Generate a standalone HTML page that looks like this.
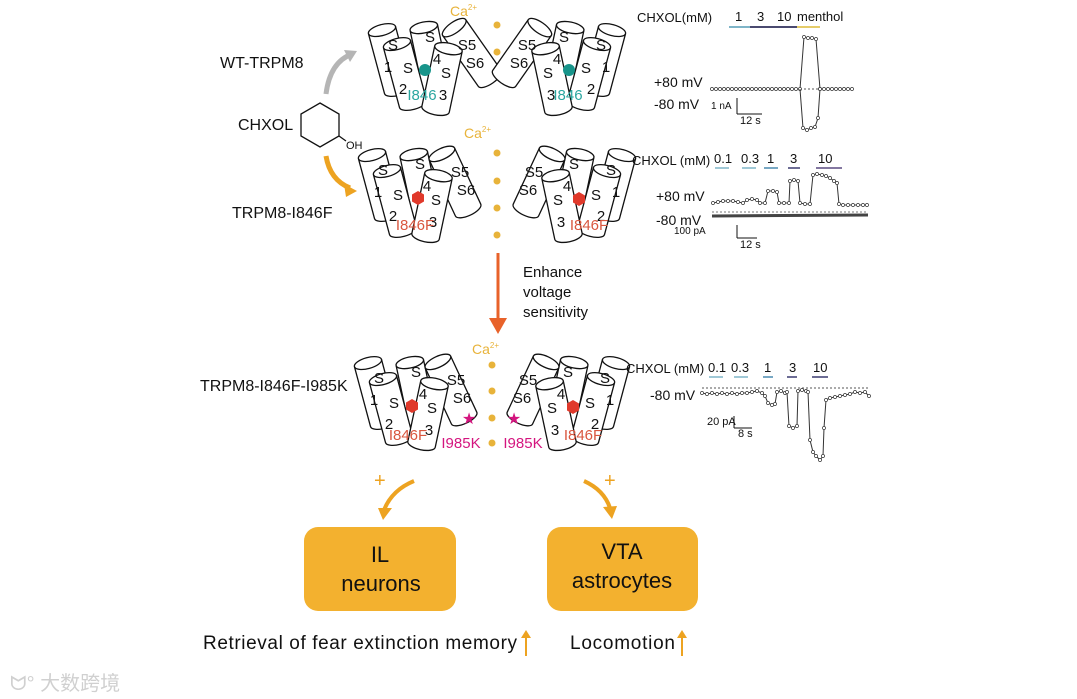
<!DOCTYPE html>
<html><head><meta charset="utf-8"><style>
html,body{margin:0;padding:0;background:#fff;}
svg{display:block;font-family:"Liberation Sans",Arial,sans-serif;}
</style></head><body>
<svg width="1077" height="699" viewBox="0 0 1077 699" xmlns="http://www.w3.org/2000/svg">
<defs>
<symbol id="cyl" overflow="visible">
<path d="M0,6 L0,68 A14,5.5 0 0 0 28,68 L28,6" fill="#fff" stroke="#111" stroke-width="1.3"/>
<ellipse cx="14" cy="6" rx="14" ry="5.5" fill="#fff" stroke="#111" stroke-width="1.3"/>
</symbol>
<marker id="dot" viewBox="-4 -4 8 8" markerWidth="5" markerHeight="5" markerUnits="userSpaceOnUse" refX="0" refY="0">
<circle r="2.6" fill="#fff" stroke="#333" stroke-width="1.2"/>
</marker>
<g id="half1">
<use href="#cyl" transform="translate(390,60) rotate(-15) translate(-14,-37)"/>
<use href="#cyl" transform="translate(429,52) rotate(-12) translate(-14,-31)"/>
<use href="#cyl" transform="translate(405,74) rotate(-15) translate(-14,-37)"/>
<use href="#cyl" transform="translate(472,53) rotate(-35) translate(-14,-37)"/>
<use href="#cyl" transform="translate(442,79) rotate(12) translate(-14,-37)"/>
</g>
<g id="half2">
<use href="#cyl" transform="translate(390,58) rotate(-15) translate(-14,-37)"/>
<use href="#cyl" transform="translate(429,52) rotate(-12) translate(-14,-31)"/>
<use href="#cyl" transform="translate(405,74) rotate(-15) translate(-14,-37)"/>
<use href="#cyl" transform="translate(465,55) rotate(-25) translate(-14,-37)"/>
<use href="#cyl" transform="translate(442,79) rotate(12) translate(-14,-37)"/>
</g>
</defs>

<!-- Row 1 -->
<use href="#half1"/>
<use href="#half1" transform="translate(994,0) scale(-1,1)"/>
<g font-size="15" fill="#111" text-anchor="middle">
<text x="393" y="50">S</text><text x="388" y="72">1</text>
<text x="408" y="73">S</text><text x="403" y="94">2</text>
<text x="430" y="42">S</text><text x="437" y="64">4</text>
<text x="446" y="78">S</text><text x="443" y="100">3</text>
<text x="467" y="50">S5</text><text x="475" y="68">S6</text>
<text x="601" y="50">S</text><text x="606" y="72">1</text>
<text x="586" y="73">S</text><text x="591" y="94">2</text>
<text x="564" y="42">S</text><text x="557" y="64">4</text>
<text x="548" y="78">S</text><text x="551" y="100">3</text>
<text x="527" y="50">S5</text><text x="519" y="68">S6</text>
</g>
<circle cx="425" cy="70" r="6" fill="#17948a"/><circle cx="569" cy="70" r="6" fill="#17948a"/>
<text x="422" y="100" font-size="15" fill="#2aa6a0" text-anchor="middle">I846</text>
<text x="568" y="100" font-size="15" fill="#2aa6a0" text-anchor="middle">I846</text>
<text x="450" y="16" font-size="14" fill="#e8b33a">Ca<tspan font-size="8" dy="-6">2+</tspan></text>
<circle cx="497" cy="25" r="3.5" fill="#e8b33a"/><circle cx="497" cy="52" r="3.5" fill="#e8b33a"/>

<!-- Row 2 -->
<g transform="translate(-10,127)"><use href="#half2"/></g>
<g transform="translate(1004,127) scale(-1,1)"><use href="#half2"/></g>
<g font-size="15" fill="#111" text-anchor="middle">
<text x="383" y="175">S</text><text x="378" y="197">1</text>
<text x="398" y="200">S</text><text x="393" y="221">2</text>
<text x="420" y="169">S</text><text x="427" y="191">4</text>
<text x="436" y="205">S</text><text x="433" y="227">3</text>
<text x="460" y="177">S5</text><text x="466" y="195">S6</text>
<text x="611" y="175">S</text><text x="616" y="197">1</text>
<text x="596" y="200">S</text><text x="601" y="221">2</text>
<text x="574" y="169">S</text><text x="567" y="191">4</text>
<text x="558" y="205">S</text><text x="561" y="227">3</text>
<text x="534" y="177">S5</text><text x="528" y="195">S6</text>
</g>
<polygon points="418,191 424,194.5 424,201.5 418,205 412,201.5 412,194.5" fill="#e0392b"/>
<polygon points="579,192 585,195.5 585,202.5 579,206 573,202.5 573,195.5" fill="#e0392b"/>
<text x="415" y="230" font-size="15" fill="#d9573f" text-anchor="middle">I846F</text>
<text x="589" y="230" font-size="15" fill="#d9573f" text-anchor="middle">I846F</text>
<text x="464" y="138" font-size="14" fill="#e8b33a">Ca<tspan font-size="8" dy="-6">2+</tspan></text>
<circle cx="497" cy="153" r="3.5" fill="#e8b33a"/><circle cx="497" cy="181" r="3.5" fill="#e8b33a"/><circle cx="497" cy="208" r="3.5" fill="#e8b33a"/><circle cx="497" cy="235" r="3.5" fill="#e8b33a"/>

<!-- Row 3 -->
<g transform="translate(-14,335)"><use href="#half2"/></g>
<g transform="translate(998,335) scale(-1,1)"><use href="#half2"/></g>
<g font-size="15" fill="#111" text-anchor="middle">
<text x="379" y="383">S</text><text x="374" y="405">1</text>
<text x="394" y="408">S</text><text x="389" y="429">2</text>
<text x="416" y="377">S</text><text x="423" y="399">4</text>
<text x="432" y="413">S</text><text x="429" y="435">3</text>
<text x="456" y="385">S5</text><text x="462" y="403">S6</text>
<text x="605" y="383">S</text><text x="610" y="405">1</text>
<text x="590" y="408">S</text><text x="595" y="429">2</text>
<text x="568" y="377">S</text><text x="561" y="399">4</text>
<text x="552" y="413">S</text><text x="555" y="435">3</text>
<text x="528" y="385">S5</text><text x="522" y="403">S6</text>
</g>
<polygon points="412,399 418,402.5 418,409.5 412,413 406,409.5 406,402.5" fill="#e0392b"/>
<polygon points="573,400 579,403.5 579,410.5 573,414 567,410.5 567,403.5" fill="#e0392b"/>
<text x="408" y="440" font-size="15" fill="#d9573f" text-anchor="middle">I846F</text>
<text x="583" y="440" font-size="15" fill="#d9573f" text-anchor="middle">I846F</text>
<text x="472" y="354" font-size="14" fill="#e8b33a">Ca<tspan font-size="8" dy="-6">2+</tspan></text>
<circle cx="492" cy="365" r="3.5" fill="#e8b33a"/><circle cx="492" cy="391" r="3.5" fill="#e8b33a"/><circle cx="492" cy="418" r="3.5" fill="#e8b33a"/><circle cx="492" cy="443" r="3.5" fill="#e8b33a"/>
<text x="469" y="424" font-size="16" fill="#d4157f" text-anchor="middle">★</text>
<text x="514" y="424" font-size="16" fill="#d4157f" text-anchor="middle">★</text>
<text x="461" y="448" font-size="15" fill="#d4157f" text-anchor="middle">I985K</text>
<text x="523" y="448" font-size="15" fill="#d4157f" text-anchor="middle">I985K</text>

<!-- Left labels -->
<g font-size="16" fill="#111">
<text x="220" y="68">WT-TRPM8</text>
<text x="238" y="130">CHXOL</text>
<text x="232" y="218">TRPM8-I846F</text>
<text x="200" y="391">TRPM8-I846F-I985K</text>
</g>
<polygon points="320,103 339,114 339,136 320,147 301,136 301,114" fill="none" stroke="#111" stroke-width="1.3"/>
<line x1="339" y1="136" x2="346" y2="141" stroke="#111" stroke-width="1.3"/>
<text x="346" y="149" font-size="11" fill="#111">OH</text>
<path d="M326,94 Q330,62 352,54" fill="none" stroke="#b5b5b5" stroke-width="5"/>
<polygon points="357,51 344,50 350,62" fill="#b5b5b5"/>
<path d="M326,156 Q330,180 350,188" fill="none" stroke="#eda321" stroke-width="5"/>
<polygon points="357,191 344,184 346,197" fill="#eda321"/>

<!-- Middle arrow -->
<line x1="498" y1="253" x2="498" y2="322" stroke="#e8622a" stroke-width="3"/>
<polygon points="489,318 507,318 498,334" fill="#e8622a"/>
<g font-size="15" fill="#111"><text x="523" y="277">Enhance</text><text x="523" y="297">voltage</text><text x="523" y="317">sensitivity</text></g>

<!-- Trace 1 -->
<g font-size="13" fill="#111">
<text x="637" y="22">CHXOL(mM)</text>
<text x="735" y="21">1</text><text x="757" y="21">3</text><text x="777" y="21">10</text><text x="797" y="21">menthol</text>
<text x="654" y="87" font-size="14">+80 mV</text><text x="654" y="109" font-size="14">-80 mV</text>
<text x="711" y="109" font-size="10">1 nA</text><text x="740" y="124" font-size="11">12 s</text>
</g>
<line x1="729" y1="27" x2="750" y2="27" stroke="#7fb5c8" stroke-width="2"/>
<line x1="750" y1="27" x2="797" y2="27" stroke="#4a4a70" stroke-width="2"/>
<line x1="797" y1="27" x2="820" y2="27" stroke="#e5cc6a" stroke-width="2"/>
<line x1="737" y1="98" x2="737" y2="114" stroke="#111"/><line x1="737" y1="114" x2="762" y2="114" stroke="#111"/>
<line x1="712" y1="89" x2="856" y2="89" stroke="#555" stroke-dasharray="2,2"/>
<polyline fill="none" stroke="#333" stroke-width="1" marker-mid="url(#dot)" marker-start="url(#dot)" marker-end="url(#dot)" points="712,89 716,89 720,89 724,89 728,89 732,89 736,89 740,89 744,89 748,89 752,89 756,89 760,89 764,89 768,89 772,89 776,89 780,89 784,89 788,89 792,89 796,89 800,89 804,37 808,38 812,38 816,39 820,89 824,89 828,89 832,89 836,89 840,89 844,89 848,89 852,89"/>
<polyline fill="none" stroke="#333" stroke-width="1" marker-mid="url(#dot)" marker-end="url(#dot)" points="800,89 803,128 807,130 811,128 815,127 818,118 820,89"/>

<!-- Trace 2 -->
<g font-size="13" fill="#111">
<text x="632" y="165">CHXOL (mM)</text>
<text x="714" y="163">0.1</text><text x="741" y="163">0.3</text><text x="767" y="163">1</text><text x="790" y="163">3</text><text x="818" y="163">10</text>
<text x="656" y="201" font-size="14">+80 mV</text><text x="656" y="225" font-size="14">-80 mV</text>
<text x="674" y="234" font-size="10">100 pA</text><text x="740" y="248" font-size="11">12 s</text>
</g>
<line x1="715" y1="168" x2="729" y2="168" stroke="#7fb5c8" stroke-width="1.5"/>
<line x1="742" y1="168" x2="756" y2="168" stroke="#7fb5c8" stroke-width="1.5"/>
<line x1="764" y1="168" x2="778" y2="168" stroke="#4a8ab0" stroke-width="1.5"/>
<line x1="788" y1="168" x2="800" y2="168" stroke="#3a3a70" stroke-width="1.5"/>
<line x1="816" y1="168" x2="842" y2="168" stroke="#5a4a80" stroke-width="1.5"/>
<line x1="737" y1="225" x2="737" y2="238" stroke="#111"/><line x1="737" y1="238" x2="757" y2="238" stroke="#111"/>
<line x1="712" y1="212" x2="868" y2="212" stroke="#777" stroke-dasharray="2,2"/>
<polyline fill="none" stroke="#333" stroke-width="1" marker-mid="url(#dot)" marker-start="url(#dot)" marker-end="url(#dot)" points="713,203 718,202 723,201 728,201 733,201 738,202 743,203 747,200 752,199 757,200 760,203 765,203 768,191 773,191 777,192 779,203 784,203 789,203 790,181 794,180 798,181 800,203 805,204 810,204 813,175 817,174 822,175 826,176 830,178 834,181 837,183 839,204 843,205 848,205 853,205 858,205 863,205 867,205"/>
<polyline fill="none" stroke="#444" stroke-width="3" points="712,216 868,215"/>

<!-- Trace 3 -->
<g font-size="13" fill="#111">
<text x="626" y="373">CHXOL (mM)</text>
<text x="708" y="372">0.1</text><text x="731" y="372">0.3</text><text x="764" y="372">1</text><text x="789" y="372">3</text><text x="813" y="372">10</text>
<text x="650" y="400" font-size="14">-80 mV</text>
<text x="707" y="425" font-size="11">20 pA</text><text x="738" y="437" font-size="11">8 s</text>
</g>
<line x1="709" y1="377" x2="723" y2="377" stroke="#7fb5c8" stroke-width="1.5"/>
<line x1="734" y1="377" x2="748" y2="377" stroke="#7fb5c8" stroke-width="1.5"/>
<line x1="763" y1="377" x2="773" y2="377" stroke="#4a8ab0" stroke-width="1.5"/>
<line x1="787" y1="377" x2="797" y2="377" stroke="#3a3a70" stroke-width="1.5"/>
<line x1="812" y1="377" x2="828" y2="377" stroke="#3a3a70" stroke-width="1.5"/>
<line x1="734" y1="416" x2="734" y2="428" stroke="#111"/><line x1="734" y1="428" x2="752" y2="428" stroke="#111"/>
<line x1="702" y1="388" x2="870" y2="388" stroke="#555" stroke-dasharray="2,2"/>
<polyline fill="none" stroke="#333" stroke-width="1" marker-mid="url(#dot)" marker-start="url(#dot)" marker-end="url(#dot)" points="702,393 707,394 712,393 717,394 722,393 727,394 732,393 737,394 742,393 747,393 752,392 757,391 762,393 765,396 768,403 772,405 775,404 777,392 781,391 785,393 787,392 789,426 793,428 797,426 798,391 802,390 806,391 808,392 810,440 813,452 816,456 820,460 823,456 824,428 826,400 830,398 835,397 840,396 845,395 850,394 855,392 860,393 865,392 869,396"/>

<!-- Bottom arrows -->
<text x="374" y="487" font-size="20" fill="#eda321">+</text>
<text x="604" y="487" font-size="20" fill="#eda321">+</text>
<path d="M414,481 Q392,490 384,510" fill="none" stroke="#eda321" stroke-width="4"/>
<polygon points="378,508 392,508 383,520" fill="#eda321"/>
<path d="M584,481 Q604,490 610,508" fill="none" stroke="#eda321" stroke-width="4"/>
<polygon points="603,507 617,506 612,519" fill="#eda321"/>

<rect x="304" y="527" width="152" height="84" rx="14" fill="#f3b12f"/>
<rect x="547" y="527" width="151" height="84" rx="14" fill="#f3b12f"/>
<g font-size="22" fill="#111" text-anchor="middle">
<text x="380" y="562">IL</text><text x="381" y="591">neurons</text>
<text x="622" y="559">VTA</text><text x="622" y="588">astrocytes</text>
</g>
<g font-size="19" fill="#111">
<text x="203" y="649" textLength="314">Retrieval of fear extinction memory</text>
<text x="570" y="649" textLength="105">Locomotion</text>
</g>
<line x1="526" y1="656" x2="526" y2="634" stroke="#eda321" stroke-width="2"/><polygon points="521,638 531,638 526,630" fill="#eda321"/>
<line x1="682" y1="656" x2="682" y2="634" stroke="#eda321" stroke-width="2"/><polygon points="677,638 687,638 682,630" fill="#eda321"/>

<text x="10" y="690" font-size="20" fill="#d0d0d0" font-family="Liberation Sans, Noto Sans CJK SC, sans-serif">ᗢ° 大数跨境</text>
</svg>
</body></html>
